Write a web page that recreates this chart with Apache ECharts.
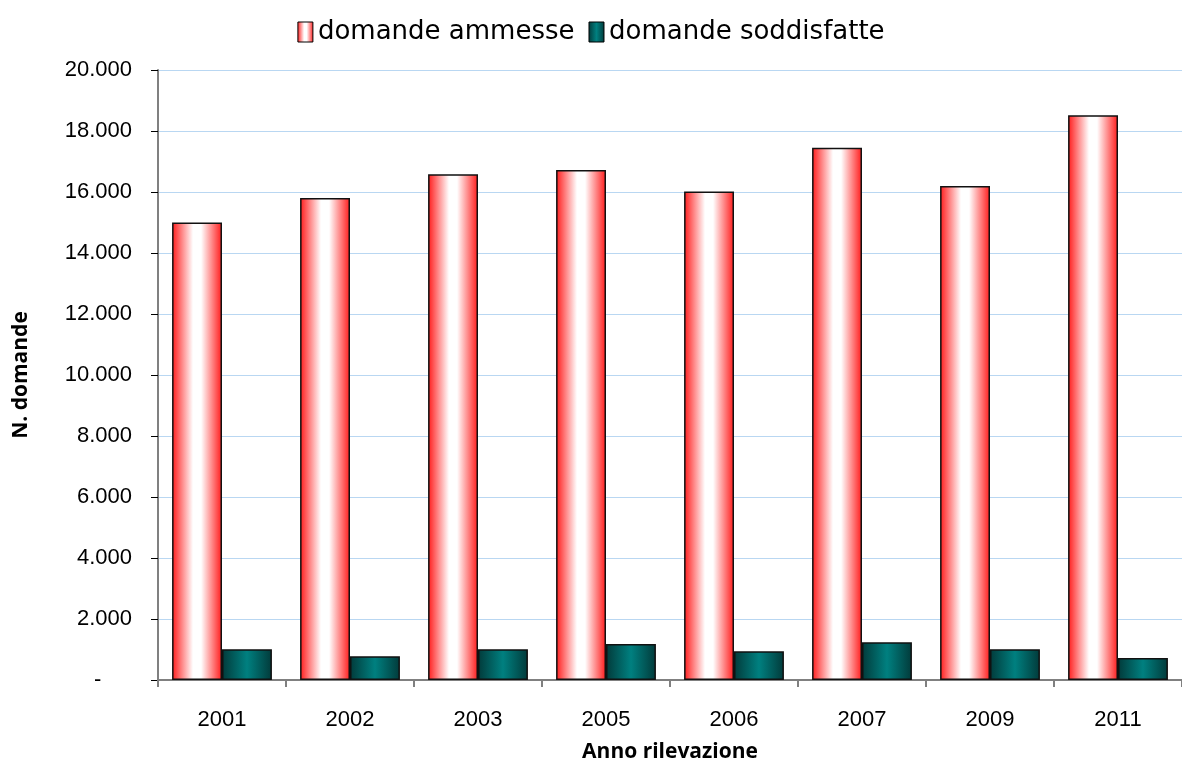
<!DOCTYPE html>
<html>
<head>
<meta charset="utf-8">
<script src="https://cdn.jsdelivr.net/npm/echarts@6/dist/echarts.min.js"></script>
<style>
  html, body { margin: 0; padding: 0; background: #fff; }
  #chart { width: 1182px; height: 762px; }
</style>
</head>
<body>
<div id="chart"></div>
<script>
  // anni di rilevazione e valori
  var anni = ['2001', '2002', '2003', '2005', '2006', '2007', '2009', '2011'];
  var domandeAmmesse = [15000, 15800, 16580, 16720, 16020, 17450, 16200, 18520];
  var domandeSoddisfatte = [1010, 780, 1010, 1180, 940, 1240, 1010, 720];

  var myChart = echarts.init(document.getElementById('chart'));

  var gradRosso = new echarts.graphic.LinearGradient(0, 0, 1, 0, [
    {offset: 0, color: '#ff1a1a'},
    {offset: 0.42, color: '#ffffff'},
    {offset: 0.58, color: '#ffffff'},
    {offset: 1, color: '#ff1a1a'}
  ]);
  var gradVerde = new echarts.graphic.LinearGradient(0, 0, 1, 0, [
    {offset: 0, color: '#023a3a'},
    {offset: 0.5, color: '#008080'},
    {offset: 1, color: '#023a3a'}
  ]);

  var font = '"Liberation Sans", Arial, sans-serif';

  var option = {
    animation: false,
    textStyle: {fontFamily: font},
    legend: {
      top: 14,
      left: 'center',
      icon: 'rect',
      itemWidth: 15,
      itemHeight: 20,
      itemGap: 14,
      textStyle: {fontSize: 26, color: '#000', fontFamily: '"DejaVu Sans", sans-serif'},
      data: [
        {name: 'domande ammesse', itemStyle: {color: gradRosso, borderColor: '#000', borderWidth: 1}},
        {name: 'domande soddisfatte', itemStyle: {color: gradVerde, borderColor: '#000', borderWidth: 1}}
      ]
    },
    grid: {
      left: 158,
      right: 0,
      top: 70,
      bottom: 82,
      containLabel: false,
      outerBoundsMode: 'none'
    },
    xAxis: {
      type: 'category',
      data: anni,
      name: 'Anno rilevazione',
      nameLocation: 'middle',
      nameGap: 62,
      nameTextStyle: {fontSize: 21, fontWeight: 'bold', color: '#000', fontFamily: '"Open Sans", sans-serif'},
      axisLine: {lineStyle: {color: '#808080', width: 2}},
      axisTick: {show: true, length: 7, lineStyle: {color: '#808080', width: 2}},
      axisLabel: {fontSize: 22, color: '#000', margin: 29}
    },
    yAxis: {
      type: 'value',
      min: 0,
      max: 20000,
      interval: 2000,
      name: 'N. domande',
      nameLocation: 'middle',
      nameGap: 126,
      nameRotate: 90,
      nameTextStyle: {fontSize: 21, fontWeight: 'bold', color: '#000', fontFamily: '"Open Sans", sans-serif'},
      axisLine: {show: true, lineStyle: {color: '#808080', width: 2}},
      axisTick: {show: true, length: 7, lineStyle: {color: '#000'}},
      splitLine: {lineStyle: {color: '#b9d7f2', width: 1}},
      axisLabel: {
        fontSize: 22,
        color: '#000',
        margin: 26,
        formatter: function (v) {
          if (v === 0) return '-     ';
          return v.toString().replace(/\B(?=(\d{3})+(?!\d))/g, '.');
        }
      }
    },
    series: [
      {
        name: 'domande ammesse',
        type: 'bar',
        barGap: '0%',
        barCategoryGap: '22%',
        itemStyle: {color: gradRosso, borderColor: '#111', borderWidth: 1.5},
        data: domandeAmmesse
      },
      {
        name: 'domande soddisfatte',
        type: 'bar',
        itemStyle: {color: gradVerde, borderColor: '#111', borderWidth: 1.5},
        data: domandeSoddisfatte
      }
    ]
  };
  myChart.setOption(option);
</script>
</body>
</html>
